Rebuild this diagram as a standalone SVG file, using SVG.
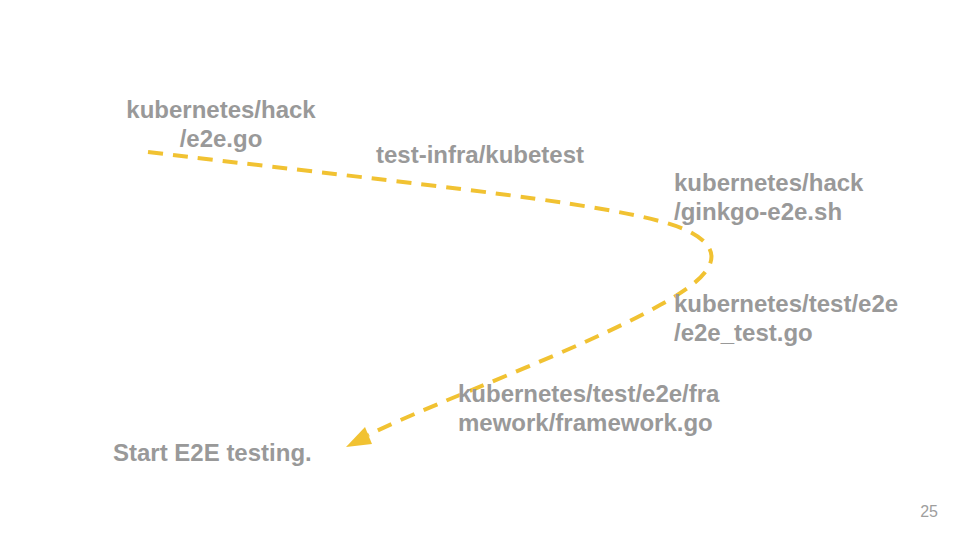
<svg xmlns="http://www.w3.org/2000/svg" width="960" height="540" viewBox="0 0 960 540">
<style>
.t{font-family:"Liberation Sans",Arial,sans-serif;font-weight:bold;font-size:24px;fill:#999999}
.n{font-family:"Liberation Sans",Arial,sans-serif;font-size:16px;fill:#9e9e9e}
.c{fill:none;stroke:#F1C232;stroke-width:4;stroke-dasharray:15 10}
</style>
<rect width="960" height="540" fill="#fff"/>
<g id="connectors">
<path class="c" d="M148,152 C420,185 640,205 690,232 C728,252 714,276 660,305 C580,350 440,400 368,435"/>
<path d="M346,447 L365,427 L372,444 Z" fill="#F1C232"/>
</g>
<g id="n1"><text class="t" x="221" y="118" text-anchor="middle">kubernetes/hack</text><text class="t" x="221" y="147" text-anchor="middle">/e2e.go</text></g>
<g id="n2"><text class="t" x="376" y="163">test-infra/kubetest</text></g>
<g id="n3"><text class="t" x="674" y="191">kubernetes/hack</text><text class="t" x="674" y="220">/ginkgo-e2e.sh</text></g>
<g id="n4"><text class="t" x="674" y="312">kubernetes/test/e2e</text><text class="t" x="674" y="341">/e2e_test.go</text></g>
<g id="n5"><text class="t" x="458" y="402">kubernetes/test/e2e/fra</text><text class="t" x="458" y="431">mework/framework.go</text></g>
<g id="n6"><text class="t" x="113" y="461">Start E2E testing.</text></g>
<text class="n" x="938" y="517" text-anchor="end">25</text>
</svg>
